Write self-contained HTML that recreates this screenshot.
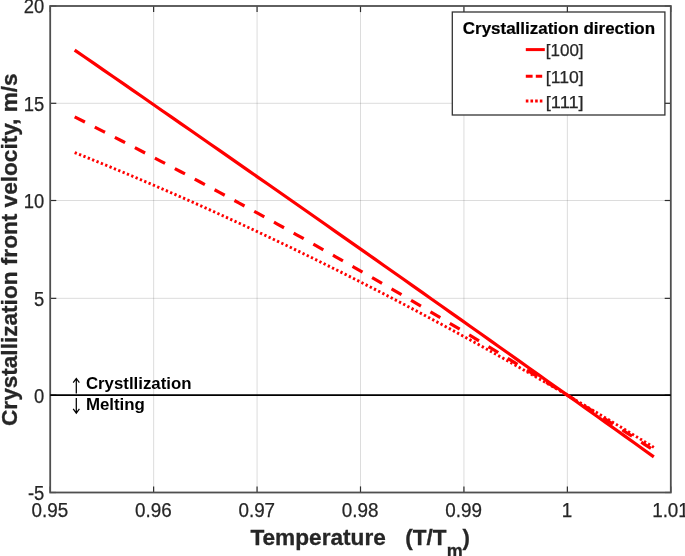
<!DOCTYPE html>
<html lang="en">
<head>
<meta charset="utf-8">
<title>Crystallization front velocity vs temperature</title>
<style>
html,body{margin:0;padding:0;background:#fff;}
body{width:685px;height:556px;overflow:hidden;}
svg{display:block;will-change:transform;font-family:"Liberation Sans",Arial,Helvetica,sans-serif;}
.grid line{stroke:#262626;stroke-opacity:0.16;stroke-width:1;}
.ticks line{stroke:#2e2e2e;stroke-width:1.2;}
.tl text{font-size:19.9px;fill:#262626;stroke:#262626;stroke-width:0.25;}
.curve{fill:none;stroke:#ff0000;stroke-width:3.2;stroke-linecap:butt;stroke-linejoin:round;}
.lab{font-weight:bold;font-size:22.1px;fill:#262626;stroke:#262626;stroke-width:0.3;}
.ann{font-weight:bold;font-size:15.8px;fill:#000;}
.arrow{fill:none;stroke:#000;stroke-width:1.25;}
.leg text{font-size:16.5px;fill:#262626;stroke:#262626;stroke-width:0.25;}
.leg .ttl{font-weight:bold;font-size:17.2px;fill:#000;stroke:#000;stroke-width:0.2;}
</style>
</head>
<body>
<svg width="685" height="556" viewBox="0 0 685 556">
<g class="grid">
<line x1="153.63" y1="6.0" x2="153.63" y2="492.5"/>
<line x1="257.07" y1="6.0" x2="257.07" y2="492.5"/>
<line x1="360.50" y1="6.0" x2="360.50" y2="492.5"/>
<line x1="463.93" y1="6.0" x2="463.93" y2="492.5"/>
<line x1="567.37" y1="6.0" x2="567.37" y2="492.5"/>
<line x1="50.2" y1="395.15" x2="670.8" y2="395.15"/>
<line x1="50.2" y1="298.35" x2="670.8" y2="298.35"/>
<line x1="50.2" y1="200.50" x2="670.8" y2="200.50"/>
<line x1="50.2" y1="103.30" x2="670.8" y2="103.30"/>
</g>
<g class="ticks">
<line x1="50.20" y1="492.5" x2="50.20" y2="486.4"/>
<line x1="50.20" y1="6.0" x2="50.20" y2="12.1"/>
<line x1="153.63" y1="492.5" x2="153.63" y2="486.4"/>
<line x1="153.63" y1="6.0" x2="153.63" y2="12.1"/>
<line x1="257.07" y1="492.5" x2="257.07" y2="486.4"/>
<line x1="257.07" y1="6.0" x2="257.07" y2="12.1"/>
<line x1="360.50" y1="492.5" x2="360.50" y2="486.4"/>
<line x1="360.50" y1="6.0" x2="360.50" y2="12.1"/>
<line x1="463.93" y1="492.5" x2="463.93" y2="486.4"/>
<line x1="463.93" y1="6.0" x2="463.93" y2="12.1"/>
<line x1="567.37" y1="492.5" x2="567.37" y2="486.4"/>
<line x1="567.37" y1="6.0" x2="567.37" y2="12.1"/>
<line x1="670.80" y1="492.5" x2="670.80" y2="486.4"/>
<line x1="670.80" y1="6.0" x2="670.80" y2="12.1"/>
<line x1="50.2" y1="492.50" x2="56.30" y2="492.50"/>
<line x1="670.8" y1="492.50" x2="664.70" y2="492.50"/>
<line x1="50.2" y1="395.15" x2="56.30" y2="395.15"/>
<line x1="670.8" y1="395.15" x2="664.70" y2="395.15"/>
<line x1="50.2" y1="298.35" x2="56.30" y2="298.35"/>
<line x1="670.8" y1="298.35" x2="664.70" y2="298.35"/>
<line x1="50.2" y1="200.50" x2="56.30" y2="200.50"/>
<line x1="670.8" y1="200.50" x2="664.70" y2="200.50"/>
<line x1="50.2" y1="103.30" x2="56.30" y2="103.30"/>
<line x1="670.8" y1="103.30" x2="664.70" y2="103.30"/>
<line x1="50.2" y1="6.00" x2="56.30" y2="6.00"/>
<line x1="670.8" y1="6.00" x2="664.70" y2="6.00"/>
</g>
<rect x="50.2" y="6.0" width="620.60" height="486.50" fill="none" stroke="#4f4f4f" stroke-width="1.8"/>
<g class="tl">
<text x="31.56" y="517.3" textLength="36.68" lengthAdjust="spacingAndGlyphs">0.95</text>
<text x="134.99" y="517.3" textLength="36.68" lengthAdjust="spacingAndGlyphs">0.96</text>
<text x="238.43" y="517.3" textLength="36.68" lengthAdjust="spacingAndGlyphs">0.97</text>
<text x="341.86" y="517.3" textLength="36.68" lengthAdjust="spacingAndGlyphs">0.98</text>
<text x="445.29" y="517.3" textLength="36.68" lengthAdjust="spacingAndGlyphs">0.99</text>
<text x="561.83" y="517.3" textLength="10.48" lengthAdjust="spacingAndGlyphs">1</text>
<text x="652.16" y="517.3" textLength="36.68" lengthAdjust="spacingAndGlyphs">1.01</text>
<text x="27.89" y="500.30" textLength="16.36" lengthAdjust="spacingAndGlyphs">-5</text>
<text x="34.02" y="402.50" textLength="10.23" lengthAdjust="spacingAndGlyphs">0</text>
<text x="34.02" y="306.20" textLength="10.23" lengthAdjust="spacingAndGlyphs">5</text>
<text x="23.79" y="207.60" textLength="20.46" lengthAdjust="spacingAndGlyphs">10</text>
<text x="23.79" y="110.80" textLength="20.46" lengthAdjust="spacingAndGlyphs">15</text>
<text x="23.79" y="13.00" textLength="20.46" lengthAdjust="spacingAndGlyphs">20</text>
</g>
<line x1="50.2" y1="395.20" x2="670.8" y2="395.20" stroke="#000" stroke-width="1.7"/>
<path class="curve" d="M74.67,152.57 L84.32,156.43 L93.98,160.33 L103.63,164.26 L113.28,168.22 L122.93,172.22 L132.59,176.26 L142.24,180.33 L151.89,184.44 L161.54,188.59 L171.20,192.77 L180.85,196.98 L190.50,201.24 L200.15,205.52 L209.81,209.85 L219.46,214.21 L229.11,218.60 L238.76,223.03 L248.42,227.50 L258.07,232.00 L267.72,236.54 L277.37,241.11 L287.03,245.72 L296.68,250.37 L306.33,255.05 L315.98,259.76 L325.63,264.52 L335.29,269.31 L344.94,274.13 L354.59,278.99 L364.24,283.89 L373.90,288.82 L383.55,293.78 L393.20,298.79 L402.85,303.82 L412.51,308.90 L422.16,314.01 L431.81,319.16 L441.46,324.34 L451.12,329.55 L460.77,334.81 L470.42,340.10 L480.07,345.42 L489.73,350.78 L499.38,356.18 L509.03,361.61 L518.68,367.08 L528.34,372.58 L537.99,378.12 L547.64,383.70 L557.29,389.31 L566.94,394.95 L576.60,400.63 L586.25,406.35 L595.90,412.11 L605.55,417.90 L615.21,423.72 L624.86,429.58 L634.51,435.48 L644.16,441.41 L653.82,447.38" stroke-dasharray="2.3 2.4" style="stroke-width:2.9"/>
<path class="curve" d="M74.67,116.90 L84.32,121.77 L93.98,126.66 L103.63,131.58 L113.28,136.52 L122.93,141.48 L132.59,146.46 L142.24,151.47 L151.89,156.50 L161.54,161.56 L171.20,166.64 L180.85,171.74 L190.50,176.86 L200.15,182.01 L209.81,187.18 L219.46,192.38 L229.11,197.60 L238.76,202.84 L248.42,208.11 L258.07,213.39 L267.72,218.71 L277.37,224.04 L287.03,229.40 L296.68,234.78 L306.33,240.19 L315.98,245.61 L325.63,251.07 L335.29,256.54 L344.94,262.04 L354.59,267.56 L364.24,273.11 L373.90,278.67 L383.55,284.27 L393.20,289.88 L402.85,295.52 L412.51,301.18 L422.16,306.86 L431.81,312.57 L441.46,318.30 L451.12,324.06 L460.77,329.84 L470.42,335.64 L480.07,341.46 L489.73,347.31 L499.38,353.18 L509.03,359.08 L518.68,365.00 L528.34,370.94 L537.99,376.90 L547.64,382.89 L557.29,388.90 L566.94,394.94 L576.60,400.99 L586.25,407.07 L595.90,413.18 L605.55,419.31 L615.21,425.46 L624.86,431.63 L634.51,437.83 L644.16,444.05 L653.82,450.30" stroke-dasharray="11.5 11.04"/>
<path class="curve" d="M74.67,50.11 L84.32,56.77 L93.98,63.43 L103.63,70.10 L113.28,76.77 L122.93,83.44 L132.59,90.12 L142.24,96.81 L151.89,103.49 L161.54,110.19 L171.20,116.88 L180.85,123.58 L190.50,130.28 L200.15,136.99 L209.81,143.70 L219.46,150.42 L229.11,157.14 L238.76,163.86 L248.42,170.59 L258.07,177.32 L267.72,184.06 L277.37,190.80 L287.03,197.54 L296.68,204.29 L306.33,211.05 L315.98,217.80 L325.63,224.56 L335.29,231.33 L344.94,238.10 L354.59,244.87 L364.24,251.65 L373.90,258.43 L383.55,265.21 L393.20,272.00 L402.85,278.79 L412.51,285.59 L422.16,292.39 L431.81,299.20 L441.46,306.01 L451.12,312.82 L460.77,319.64 L470.42,326.46 L480.07,333.29 L489.73,340.12 L499.38,346.95 L509.03,353.79 L518.68,360.63 L528.34,367.48 L537.99,374.33 L547.64,381.18 L557.29,388.04 L566.94,394.90 L576.60,401.77 L586.25,408.64 L595.90,415.51 L605.55,422.39 L615.21,429.27 L624.86,436.16 L634.51,443.05 L644.16,449.94 L653.82,456.84"/>
<g>
<path class="arrow" d="M76.3 393.5V378.6M73.2 382.7L76.3 378.5L79.4 382.7"/>
<path class="arrow" d="M76.3 398.0V412.9M73.2 408.9L76.3 413.1L79.4 408.9"/>
<text class="ann" x="85.9" y="389.3" textLength="105.6" lengthAdjust="spacingAndGlyphs">Crystllization</text>
<text class="ann" x="85.9" y="409.7" textLength="59.0" lengthAdjust="spacingAndGlyphs">Melting</text>
</g>
<text class="lab" transform="translate(16.5 426.0) rotate(-90)" textLength="352.6" lengthAdjust="spacingAndGlyphs">Crystallization front velocity, m/s</text>
<text class="lab" x="250.4" y="544.5" textLength="135.4" lengthAdjust="spacingAndGlyphs">Temperature</text>
<text class="lab" x="405.2" y="544.5" textLength="41.2" lengthAdjust="spacingAndGlyphs">(T/T</text>
<text class="lab" x="446.7" y="556.6" style="font-size:18.6px" textLength="16" lengthAdjust="spacingAndGlyphs">m</text>
<text class="lab" x="462.6" y="544.5">)</text>
<g class="leg">
<rect x="452.3" y="12.0" width="212.6" height="103.0" fill="#fff" stroke="#333" stroke-width="1.3"/>
<text class="ttl" x="462.8" y="34.3" textLength="192.3" lengthAdjust="spacingAndGlyphs">Crystallization direction</text>
<line class="curve" x1="525.8" y1="49.6" x2="544.8" y2="49.6" style="stroke-width:3"/>
<line class="curve" x1="525.8" y1="76.2" x2="542.2" y2="76.2" stroke-dasharray="6.8 3.2" style="stroke-width:3"/>
<line class="curve" x1="525.8" y1="101.1" x2="542.5" y2="101.1" stroke-dasharray="2.6 2.07" style="stroke-width:3"/>
<text x="545.8" y="56.1" textLength="37.8" lengthAdjust="spacingAndGlyphs">[100]</text>
<text x="545.8" y="83.1" textLength="37.8" lengthAdjust="spacingAndGlyphs">[110]</text>
<text x="545.8" y="107.9" textLength="37.8" lengthAdjust="spacingAndGlyphs">[111]</text>
</g>
</svg>
</body>
</html>
